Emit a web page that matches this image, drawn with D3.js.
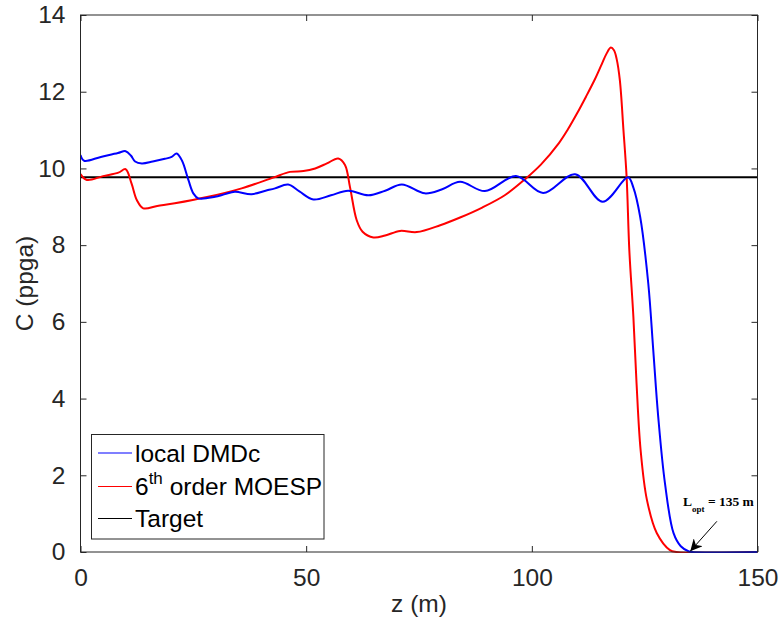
<!DOCTYPE html>
<html>
<head>
<meta charset="utf-8">
<script src="https://cdn.jsdelivr.net/npm/d3@7"></script>
<style>
  body { margin: 0; background: #fff; }
  svg { display: block; font-family: "Liberation Sans", Arial, sans-serif; }
</style>
</head>
<body>
<div id="chart"></div>
<script>
// local DMDc
const blueZ = [0, 0.8, 4.5, 8.3, 10, 11.2, 12.1, 13.6, 16, 18.7, 20.2, 21.3, 22.5, 23.9, 25, 26.1, 29.8, 32, 34.2, 37.9, 41, 43.1, 46, 48.5, 51.6, 55.5, 59.3, 63.8, 67.5, 71.2, 76.3, 80, 84.1, 89.6, 96.5, 102.5, 109.6, 115.7, 121.3, 122.5, 124, 125.8, 126.9, 128, 129.5, 131.4, 133, 134.7, 135.5, 150];
const blueC = [10.35, 10.2, 10.3, 10.4, 10.45, 10.33, 10.18, 10.13, 10.18, 10.25, 10.3, 10.39, 10.2, 9.7, 9.35, 9.22, 9.26, 9.33, 9.39, 9.33, 9.42, 9.48, 9.58, 9.4, 9.19, 9.3, 9.42, 9.3, 9.42, 9.58, 9.35, 9.45, 9.65, 9.41, 9.8, 9.36, 9.85, 9.13, 9.77, 9.5, 8.74, 7.0, 5.27, 3.53, 1.79, 0.49, 0.15, 0.02, 0, 0];

// 6th order MOESP
const redZ = [0, 1.4, 5, 8.4, 10, 11.3, 12.5, 13.9, 17, 20.9, 28.3, 35.7, 42.7, 46.4, 49.4, 52, 54.6, 57.1, 58.6, 59.7, 61.2, 62.5, 64.9, 67.5, 70.8, 74.5, 79.7, 84.1, 89, 94, 98.5, 102, 106, 108, 110, 112, 114, 115.5, 116.5, 117.5, 118.2, 118.8, 119.5, 120.3, 121, 121.6, 122.5, 123.2, 124.1, 125.5, 127.7, 130.6, 132, 150];
const redC = [9.85, 9.7, 9.8, 9.89, 9.98, 9.61, 9.17, 8.96, 9.02, 9.09, 9.26, 9.48, 9.76, 9.91, 9.93, 10.0, 10.13, 10.26, 10.09, 9.52, 8.65, 8.35, 8.2, 8.25, 8.37, 8.34, 8.52, 8.72, 8.98, 9.3, 9.72, 10.1, 10.66, 11.02, 11.43, 11.87, 12.33, 12.72, 12.98, 13.15, 13.08, 12.85, 12.3, 11.0, 9.78, 7.87, 6.13, 4.4, 2.66, 1.36, 0.49, 0.05, 0, 0];

// Target
const targetZ = [0, 150];
const targetC = [9.77, 9.77];

const xTicks = [0, 50, 100, 150];
const yTicks = [0, 2, 4, 6, 8, 10, 12, 14];

const legendLabels = ["local DMDc", "6", "Target"];
const colors = ["#0000ff", "#ff0000", "#000000"];

const width = 781, height = 632;
const margin = { top: 15, right: 23.5, bottom: 80, left: 80.5 };

const x = d3.scaleLinear().domain([0, 150]).range([margin.left, width - margin.right]);
const y = d3.scaleLinear().domain([0, 14]).range([height - margin.bottom, margin.top]);

const svg = d3.select("#chart")
  .append("svg")
  .attr("width", width)
  .attr("height", height);

const axisColor = "#262626";
const fs = 24.5;

// ticks on all four sides, pointing inward
function styleAxis(g) {
  g.select(".domain").remove();
  g.selectAll(".tick line").attr("stroke", axisColor);
  g.selectAll(".tick text").attr("fill", axisColor).attr("font-size", fs).attr("font-family", null);
}

svg.append("g")
  .attr("transform", `translate(0,${y(0)})`)
  .call(d3.axisBottom(x).tickValues(xTicks).tickSizeInner(-6).tickSizeOuter(0).tickPadding(17))
  .call(styleAxis);

svg.append("g")
  .attr("transform", `translate(0,${y(14)})`)
  .call(d3.axisTop(x).tickValues(xTicks).tickSizeInner(-6).tickSizeOuter(0).tickFormat(""))
  .call(styleAxis);

svg.append("g")
  .attr("transform", `translate(${x(0)},0)`)
  .call(d3.axisLeft(y).tickValues(yTicks).tickSizeInner(-6).tickSizeOuter(0).tickPadding(15))
  .call(styleAxis);

svg.append("g")
  .attr("transform", `translate(${x(150)},0)`)
  .call(d3.axisRight(y).tickValues(yTicks).tickSizeInner(-6).tickSizeOuter(0).tickFormat(""))
  .call(styleAxis);

// clip to the plot box (catmull-rom can dip a hair below zero)
svg.append("clipPath")
  .attr("id", "plot-clip")
  .append("rect")
  .attr("x", x(0))
  .attr("y", y(14))
  .attr("width", x(150) - x(0))
  .attr("height", y(0) - y(14) + 1);

// data lines
const line = d3.line()
  .x(d => x(d[0]))
  .y(d => y(d[1]))
  .curve(d3.curveCatmullRom.alpha(0.5));

const series = [
  d3.zip(targetZ, targetC),
  d3.zip(redZ, redC),
  d3.zip(blueZ, blueC)
];
const seriesColors = [colors[2], colors[1], colors[0]];

svg.append("g")
  .attr("clip-path", "url(#plot-clip)")
  .selectAll("path")
  .data(series)
  .join("path")
  .attr("fill", "none")
  .attr("stroke", (d, i) => seriesColors[i])
  .attr("stroke-width", 2)
  .attr("d", line);

// box
svg.append("rect")
  .attr("x", x(0))
  .attr("y", y(14))
  .attr("width", x(150) - x(0))
  .attr("height", y(0) - y(14))
  .attr("fill", "none")
  .attr("stroke", axisColor)
  .attr("stroke-width", 1);

// axis labels
svg.append("text")
  .attr("x", (x(0) + x(150)) / 2)
  .attr("y", 612)
  .attr("text-anchor", "middle")
  .attr("font-size", fs)
  .attr("fill", axisColor)
  .text("z (m)");

svg.append("text")
  .attr("transform", `translate(33,${(y(0) + y(14)) / 2}) rotate(-90)`)
  .attr("text-anchor", "middle")
  .attr("font-size", fs)
  .attr("fill", axisColor)
  .text("C (ppga)");

// legend
const legend = svg.append("g");
legend.append("rect")
  .attr("x", 91.5)
  .attr("y", 434.5)
  .attr("width", 232.5)
  .attr("height", 104.5)
  .attr("fill", "#fff")
  .attr("stroke", axisColor)
  .attr("stroke-width", 1);

const rowY = [453, 486.5, 518.5];
legend.selectAll("line")
  .data(colors)
  .join("line")
  .attr("x1", 98)
  .attr("x2", 132)
  .attr("y1", (d, i) => rowY[i])
  .attr("y2", (d, i) => rowY[i])
  .attr("stroke", d => d)
  .attr("stroke-width", 1.2);

const lt = legend.selectAll("text")
  .data(legendLabels)
  .join("text")
  .attr("x", 135)
  .attr("y", (d, i) => rowY[i] + 8.5)
  .attr("font-size", fs)
  .attr("fill", "#000")
  .text(d => d);

const moesp = d3.select(lt.nodes()[1]);
moesp.append("tspan")
  .attr("font-size", 17)
  .attr("dy", -11)
  .text("th");
moesp.append("tspan")
  .attr("dy", 11)
  .text(" order MOESP");

// annotation
const ann = svg.append("text")
  .attr("x", x(133.5))
  .attr("y", y(1.19))
  .attr("font-family", "'Liberation Serif', 'Times New Roman', serif")
  .attr("font-weight", "bold")
  .attr("font-size", 13.5)
  .attr("fill", "#000");
ann.append("tspan").text("L");
ann.append("tspan").attr("font-size", 9).attr("dy", 6).text("opt");
ann.append("tspan").attr("dy", -6).text(" = 135 m");

svg.append("defs").append("marker")
  .attr("id", "arrow")
  .attr("viewBox", "0 0 10 10")
  .attr("refX", 10)
  .attr("refY", 5)
  .attr("markerWidth", 12)
  .attr("markerHeight", 12)
  .attr("markerUnits", "userSpaceOnUse")
  .attr("orient", "auto")
  .append("path")
  .attr("d", "M0,0 L10,5 L0,10 L3,5 Z")
  .attr("fill", "#000");

svg.append("line")
  .attr("x1", x(141))
  .attr("y1", y(0.8))
  .attr("x2", x(135.1))
  .attr("y2", y(0.02))
  .attr("stroke", "#000")
  .attr("stroke-width", 1)
  .attr("marker-end", "url(#arrow)");
</script>
</body>
</html>
